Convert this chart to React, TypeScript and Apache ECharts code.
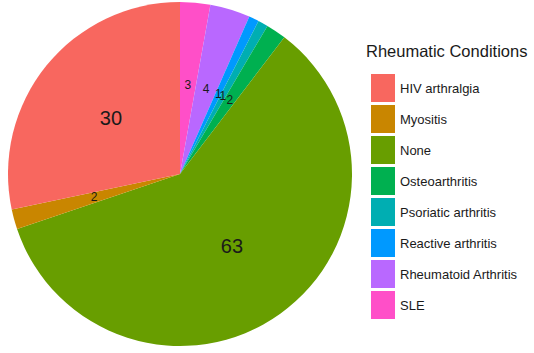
import React, { useEffect, useRef } from "react";
import * as echarts from "echarts";

const legendOrder = [
  "HIV arthralgia",
  "Myositis",
  "None",
  "Osteoarthritis",
  "Psoriatic arthritis",
  "Reactive arthritis",
  "Rheumatoid Arthritis",
  "SLE",
];
const legendColors = [
  "#F8675F",
  "#C98600",
  "#689E00",
  "#00B050",
  "#00AEB2",
  "#0099FF",
  "#B968FF",
  "#FF4FC8",
];
// slice order clockwise from 12 o'clock
const sliceNames = [
  "SLE",
  "Rheumatoid Arthritis",
  "Reactive arthritis",
  "Psoriatic arthritis",
  "Osteoarthritis",
  "None",
  "Myositis",
  "HIV arthralgia",
];
const sliceValues = [3, 4, 1, 1, 2, 63, 2, 30];

export default function App() {
  const ref = useRef<HTMLDivElement>(null);
  useEffect(() => {
    if (!ref.current) return;
    const chart = echarts.init(ref.current, undefined, { renderer: "svg" });
    const colorOf = (n: string) => legendColors[legendOrder.indexOf(n)];
    chart.setOption({
      animation: false,
      backgroundColor: "#ffffff",
      title: {
        text: "Rheumatic Conditions",
        left: 361,
        top: 37,
        textStyle: {
          fontFamily: "Liberation Sans",
          fontSize: 16.5,
          fontWeight: "normal",
          color: "#1a1a1a",
        },
      },
      legend: {
        orient: "vertical",
        left: 366,
        top: 69,
        data: legendOrder,
        icon: "rect",
        itemWidth: 24,
        itemHeight: 28,
        itemGap: 3,
        textStyle: {
          fontFamily: "Liberation Sans",
          fontSize: 13,
          color: "#1a1a1a",
          padding: [0, 0, 0, 0],
        },
        selectedMode: false,
      },
      series: [
        {
          type: "pie",
          center: [180, 174],
          radius: [0, 172],
          startAngle: 90,
          clockwise: true,
          silent: true,
          avoidLabelOverlap: false,
          labelLayout: { hideOverlap: false },
          itemStyle: { borderWidth: 0 },
          label: {
            show: true,
            position: "inside",
            formatter: "{c}",
            fontFamily: "Liberation Sans",
            color: "#1a1a1a",
          },
          labelLine: { show: false },
          data: sliceNames.map((n, i) => ({
            name: n,
            value: sliceValues[i],
            itemStyle: { color: colorOf(n) },
            label: { fontSize: sliceValues[i] >= 10 ? 20 : 12 },
          })),
        },
      ],
    });
    return () => chart.dispose();
  }, []);
  return <div ref={ref} style={{ width: 534, height: 353, position: "absolute", left: 0, top: 0 }} />;
}
